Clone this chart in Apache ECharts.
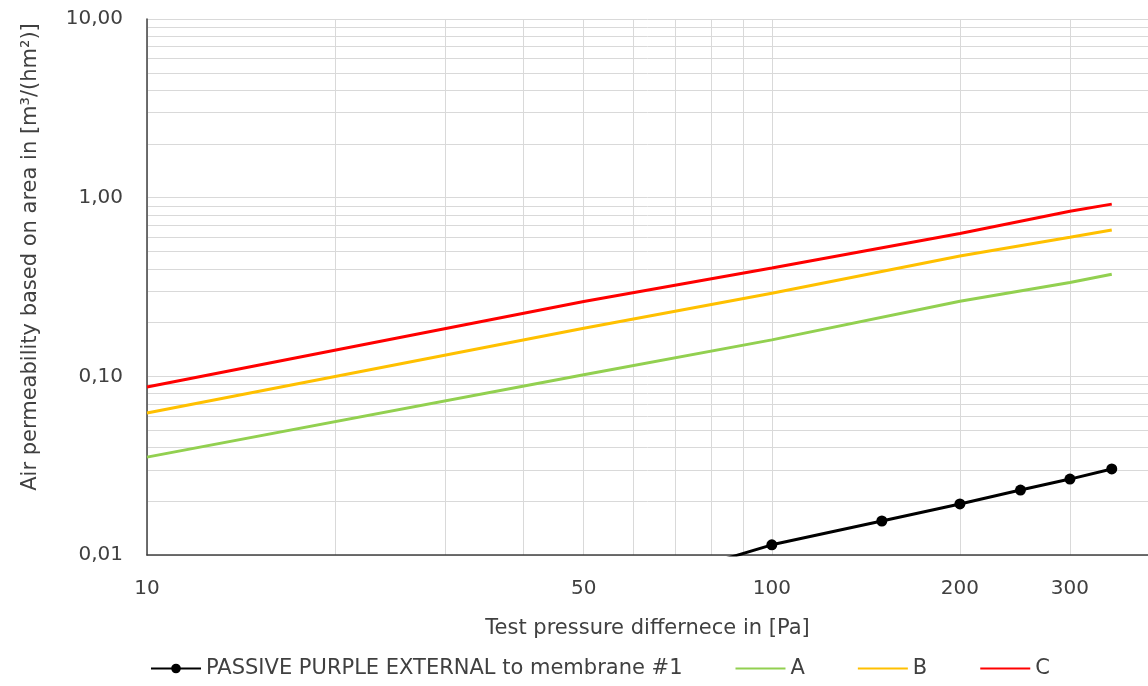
<!DOCTYPE html>
<html style="height: 100%">
   <head>
       <meta charset="utf-8">
   </head>
   <body style="height: 100%; margin: 0">
       <div id="container" style="height: 100%"></div>
       <script type="text/javascript" src="https://cdn.jsdelivr.net/npm/echarts@6/dist/echarts.min.js"></script>
       <script type="text/javascript">
// pressure difference [Pa]
var pressure = [10, 50, 100, 200, 300, 350];
var pressureMeasured = [50, 100, 150, 200, 250, 300, 350];

// air permeability [m3/(hm2)]
var measured = [0.0055, 0.0114, 0.0155, 0.0193, 0.0231, 0.0266, 0.0303];
var classA = [0.0353, 0.102, 0.160, 0.263, 0.335, 0.373];
var classB = [0.0623, 0.186, 0.292, 0.471, 0.600, 0.659];
var classC = [0.0871, 0.262, 0.404, 0.630, 0.840, 0.920];

var xLabels = [10, 50, 100, 200, 300];
var xGrid = [10, 20, 30, 40, 50, 60, 70, 80, 90, 100, 200, 300, 400];
var yLabels = [0.01, 0.1, 1, 10];
var yGrid = [0.01, 0.02, 0.03, 0.04, 0.05, 0.06, 0.07, 0.08, 0.09,
             0.1, 0.2, 0.3, 0.4, 0.5, 0.6, 0.7, 0.8, 0.9,
             1, 2, 3, 4, 5, 6, 7, 8, 9, 10];

function pairs(xs, ys) {
    var out = [];
    for (var i = 0; i < xs.length; i++) out.push([xs[i], ys[i]]);
    return out;
}

var FONT = 'DejaVu Sans';
var FS = 21;      // names + legend
var FS_TICK = 20; // tick labels

var dom = document.getElementById("container");
var myChart = echarts.init(dom);

var option = {
    animation: false,
    textStyle: { fontFamily: FONT },
    grid: { left: 147, top: 19, right: 0, bottom: 131 },
    legend: {
        left: 145,
        bottom: 2,
        itemWidth: 50,
        itemHeight: 12,
        itemGap: 52,
        textStyle: { fontSize: FS, color: '#404040', fontFamily: FONT },
        data: [
            { name: 'PASSIVE PURPLE EXTERNAL to membrane #1' },
            { name: 'A', itemStyle: { opacity: 0 } },
            { name: 'B', itemStyle: { opacity: 0 } },
            { name: 'C', itemStyle: { opacity: 0 } }
        ]
    },
    xAxis: {
        type: 'log',
        logBase: 10,
        min: 10,
        max: 400,
        name: 'Test pressure differnece in [Pa]',
        nameLocation: 'middle',
        nameGap: 63,
        nameTextStyle: { fontSize: FS, color: '#404040' },
        axisLine: { lineStyle: { color: '#404040', width: 1.5 } },
        axisTick: { show: false, customValues: xGrid },
        axisLabel: {
            customValues: xLabels,
            margin: 24,
            fontSize: FS_TICK,
            color: '#404040'
        },
        splitLine: { show: true, lineStyle: { color: '#d9d9d9', width: 1 } }
    },
    yAxis: {
        type: 'log',
        logBase: 10,
        min: 0.01,
        max: 10,
        name: 'Air permeability based on area in [m³/(hm²)]',
        nameLocation: 'middle',
        nameGap: 106,
        nameTextStyle: { fontSize: FS, color: '#404040', padding: [0, 0, 0, 60] },
        axisLine: { show: true, lineStyle: { color: '#404040', width: 1.5 } },
        axisTick: { show: false, customValues: yGrid },
        axisLabel: {
            customValues: yLabels,
            margin: 24,
            fontSize: FS_TICK,
            color: '#404040',
            formatter: function (v) { return v.toFixed(2).replace('.', ','); }
        },
        splitLine: { show: true, lineStyle: { color: '#d9d9d9', width: 1 } }
    },
    series: [
        {
            name: 'PASSIVE PURPLE EXTERNAL to membrane #1',
            type: 'line',
            data: pairs(pressureMeasured, measured),
            symbol: 'circle',
            symbolSize: 11,
            showAllSymbol: true,
            clip: true,
            itemStyle: { color: '#000000' },
            lineStyle: { color: '#000000', width: 3 }
        },
        {
            name: 'A',
            type: 'line',
            data: pairs(pressure, classA),
            symbol: 'none',
            itemStyle: { color: '#92D050' },
            lineStyle: { color: '#92D050', width: 3 }
        },
        {
            name: 'B',
            type: 'line',
            data: pairs(pressure, classB),
            symbol: 'none',
            itemStyle: { color: '#FFC000' },
            lineStyle: { color: '#FFC000', width: 3 }
        },
        {
            name: 'C',
            type: 'line',
            data: pairs(pressure, classC),
            symbol: 'none',
            itemStyle: { color: '#FF0000' },
            lineStyle: { color: '#FF0000', width: 3 }
        }
    ]
};

myChart.setOption(option, true);
       </script>
   </body>
</html>
